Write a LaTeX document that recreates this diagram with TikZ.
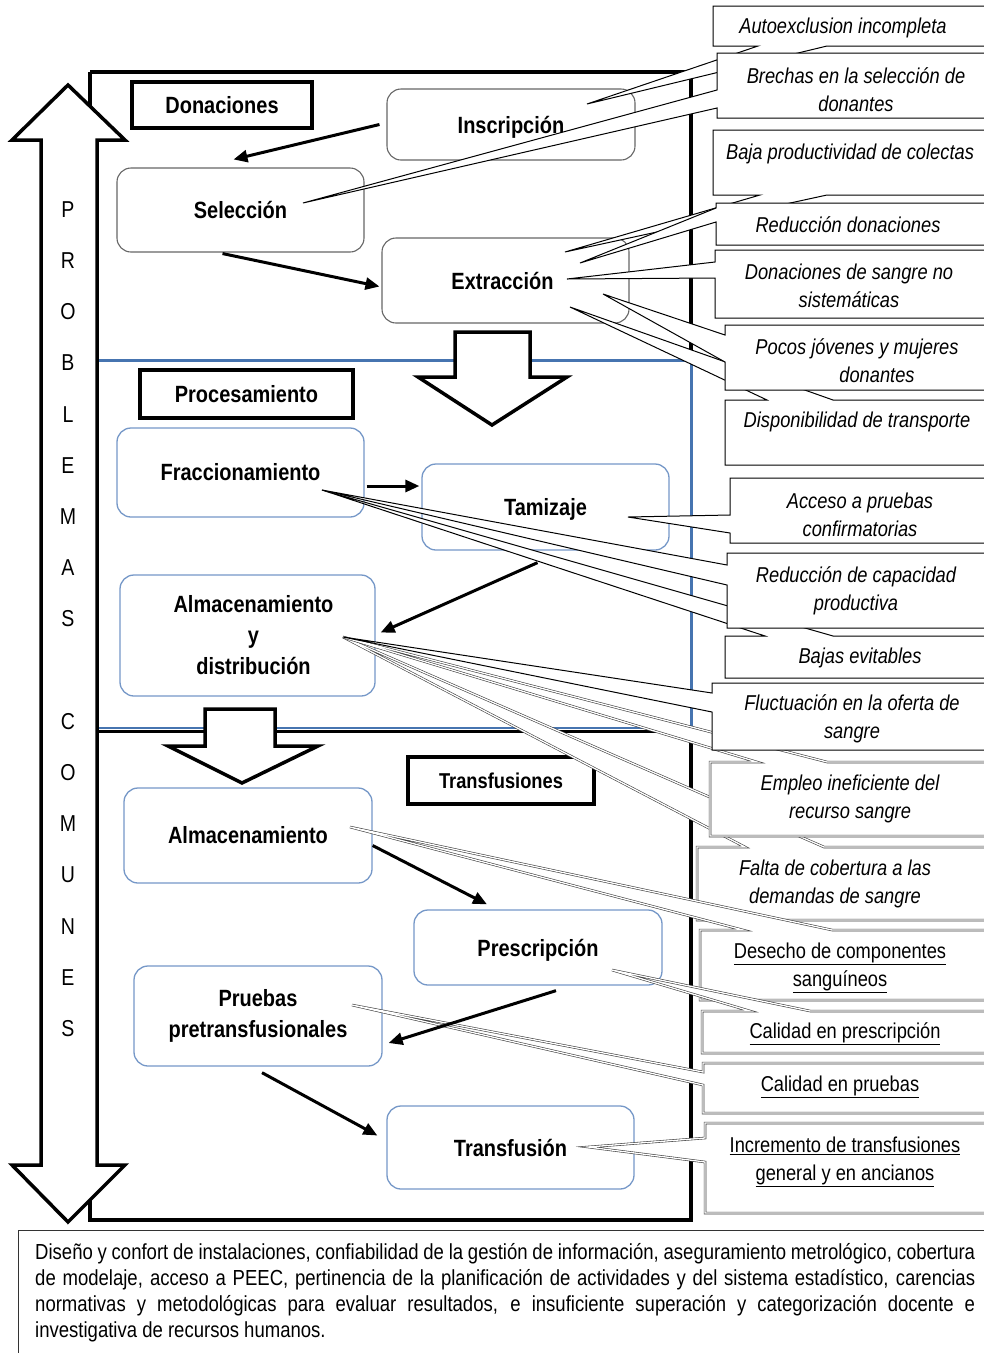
\documentclass[tikz,border=0pt]{standalone}
\usepackage{fontspec}
\setmainfont{Liberation Sans}[FakeStretch=0.85]
\usetikzlibrary{arrows.meta,calc}

\definecolor{procblue}{RGB}{118,152,200}
\definecolor{lineblue}{RGB}{70,116,176}

\newcommand{\procfont}{\fontsize{23.5}{31}\selectfont\bfseries}
\newcommand{\stagesmall}{\fontsize{21.5}{26}\selectfont\bfseries}
\newcommand{\calfont}{\fontsize{21.5}{28}\selectfont\itshape}
\newcommand{\calfontup}{\fontsize{21.5}{28}\selectfont}
\newcommand{\bodyfont}{\fontsize{21.8}{26}\selectfont}
\newcommand{\sidefont}{\fontsize{23}{51.2}\selectfont}

% callout outlines: box from x=#2 to beyond the right edge, rows #3..#4,
% wedge base points #5,#6 and tip coordinate #7
\newcommand{\wedgeleft}[7][]{\path[#1] (#2,#3) -- (#2,#5) -- (#7) -- (#2,#6) -- (#2,#4) -- (1000,#4) -- (1000,#3) -- cycle;}
\newcommand{\wedgetop}[7][]{\path[#1] (#2,#3) -- (#2,#4) -- (1000,#4) -- (1000,#3) -- (#6,#3) -- (#7) -- (#5,#3) -- cycle;}
\newcommand{\wedgebottom}[7][]{\path[#1] (#2,#3) -- (#2,#4) -- (#5,#4) -- (#7) -- (#6,#4) -- (1000,#4) -- (1000,#3) -- cycle;}

\begin{document}
\begin{tikzpicture}[x=1pt,y=-1pt,
  frameline/.style={line width=3.5pt,black},
  blueline/.style={line width=3pt,lineblue},
  gstep/.style={draw=black!60,line width=1.1pt,rounded corners=14pt,fill=white,font=\procfont,align=center,inner sep=0pt},
  bstep/.style={draw=procblue,line width=1.3pt,rounded corners=14pt,fill=white,font=\procfont,align=center,inner sep=0pt},
  stage/.style={draw=black,line width=4pt,fill=white,font=\procfont,inner sep=0pt},
  flow/.style={line width=3pt,-{Triangle[length=14pt,width=12pt]}},
  bigarrow/.style={draw=black,line width=3.5pt,fill=white,line join=miter},
  callA/.style={draw=black,line width=1pt,fill=white,line join=miter},
  callB/.style={draw=black!75,double=white,double distance=1.3pt,line width=0.6pt,fill=white,line join=miter},
  ctext/.style={font=\calfont,align=center,inner sep=0pt},
  utext/.style={font=\calfontup,align=center,inner sep=0pt}
]
\useasboundingbox (0,0) rectangle (984,1353);
\fill[white] (0,0) rectangle (984,1353);
\clip (0,0) rectangle (984,1353);

% ---- outer frame and section dividers ----
\draw[frameline] (90,72) -- (691,72) -- (691,360);
\draw[blueline] (97,360) -- (691,360) -- (691,729);
\draw[lineblue,line width=1.5pt] (97,728) -- (691,728);
\draw[frameline] (97,731.5) -- (691,731.5);
\draw[frameline] (691,729) -- (691,1220) -- (90,1220) -- (90,72);

% ---- vertical double arrow ----
\draw[bigarrow] (68,85) -- (125,140) -- (97,140) -- (97,1165) -- (125,1165) -- (68,1222)
  -- (12,1165) -- (41,1165) -- (41,140) -- (12,140) -- cycle;
\node[font=\sidefont,align=center,inner sep=0pt] (side) at (68,619)
  {P\\R\\O\\B\\L\\E\\M\\A\\S\\~\\C\\O\\M\\U\\N\\E\\S};

% ---- stage labels ----
\node[stage,minimum width=180,minimum height=46] (don) at (222,105) {Donaciones};
\node[stage,minimum width=213,minimum height=48] (proc) at (246.5,394) {Procesamiento};
\node[stage,font=\stagesmall,minimum width=186,minimum height=47] (trf) at (501,780.5) {Transfusiones};

% ---- process steps ----
\node[gstep,text depth=0pt,minimum width=248,minimum height=71] (insc) at (511,124.5) {Inscripción};
\node[gstep,minimum width=247,minimum height=84] (sel) at (240.5,210) {Selección};
\node[gstep,minimum width=247,minimum height=85] (extr) at (505.5,280.5) {\hspace*{-6pt}Extracción};
\node[bstep,minimum width=247,minimum height=89] (frac) at (240.5,472.5) {Fraccionamiento};
\node[bstep,text depth=0pt,minimum width=247,minimum height=86] (tam) at (545.5,507) {Tamizaje};
\node[bstep,minimum width=255,minimum height=121] (alm) at (247.5,635.5) {\hspace*{12pt}Almacenamiento\\\hspace*{12pt}y\\\hspace*{12pt}distribución};
\node[bstep,minimum width=248,minimum height=95] (almt) at (248,835.5) {Almacenamiento};
\node[bstep,text depth=0pt,minimum width=248,minimum height=75] (pres) at (538,947.5) {Prescripción};
\node[bstep,minimum width=248,minimum height=100] (prue) at (258,1016) {Pruebas\\pretransfusionales};
\node[bstep,minimum width=247,minimum height=83] (trans) at (510.5,1147.5) {Transfusión};

% ---- hollow arrows between stages ----
\draw[bigarrow] (455,332) -- (530,332) -- (530,377) -- (567,377) -- (492,425) -- (418,377) -- (455,377) -- cycle;
\draw[bigarrow] (205,709) -- (275,709) -- (275,746) -- (318,746) -- (242,783) -- (168,746) -- (205,746) -- cycle;

% ---- callout tips ----
\coordinate (pInsc) at (587,104);
\coordinate (pSel) at (303,203);
\coordinate (pExt1) at (565,252);
\coordinate (pExt2) at (580,263);
\coordinate (pExt3) at (567,279);
\coordinate (pExt4) at (603,294);
\coordinate (pExt5) at (570,307);
\coordinate (pTam) at (628,517);
\coordinate (pFrac) at (322,490);
\coordinate (pAlm) at (343,637);
\coordinate (pAlmT) at (350,827);
\coordinate (pPres) at (612,970);
\coordinate (pPrue) at (352,1005);
\coordinate (pTrans) at (588,1147);

% ---- problems: donations ----
\wedgebottom[callA]{713}{6}{46}{758}{827}{pInsc}
\node[ctext] (c1) at (843,28) {Autoexclusion incompleta};
\wedgeleft[callA]{717}{53}{118}{90}{108}{pSel}
\node[ctext] (c2) at (856,90) {Brechas en la selección de\\donantes};
\wedgebottom[callA]{713}{130}{195}{760}{827}{pExt1}
\node[ctext] (c3) at (850,154) {Baja productividad de colectas};
\wedgeleft[callA]{716}{203}{245}{208}{222}{pExt2}
\node[ctext] (c4) at (848,225) {Reducción donaciones};
\wedgeleft[callA]{715}{250}{318}{262}{278}{pExt3}
\node[ctext] (c5) at (849,286) {Donaciones de sangre no\\sistemáticas};
\wedgetop[callA]{725}{400}{465}{767}{833}{pExt5}
\node[ctext] (c7) at (857,422) {Disponibilidad de transporte};
\wedgeleft[callA]{725}{325}{390}{335}{362}{pExt4}
\node[ctext] (c6) at (857,361) {Pocos jóvenes y mujeres\\\hspace*{40pt}donantes};

% ---- problems: processing ----
\wedgeleft[callA]{730}{478}{543}{515}{533}{pTam}
\node[ctext] (c8) at (860,515) {Acceso a pruebas\\confirmatorias};
\wedgetop[callA]{725}{636}{678}{765}{833}{pFrac}
\node[ctext] (c10) at (860,658) {Bajas evitables};
\wedgeleft[callA]{727}{553}{628}{565}{585}{pFrac}
\node[ctext] (c9) at (856,591) {Reducción de capacidad\\productiva};
\wedgetop[callB]{697}{847}{920}{745}{824}{pAlm}
\node[ctext] (c13) at (835,884) {Falta de cobertura a las\\demandas de sangre};
\wedgetop[callB]{710}{762}{836}{757}{827}{pAlm}
\node[ctext] (c12) at (850,799) {Empleo ineficiente del\\recurso sangre};
\wedgeleft[callA]{712}{683}{750}{693}{712}{pAlm}
\node[ctext] (c11) at (852,719) {Fluctuación en la oferta de\\sangre};

% ---- problems: transfusion ----
\wedgetop[callB]{700}{930}{1000}{743}{832}{pAlmT}
\node[utext] (c14) at (840,968) {\underline{Desecho de componentes}\\\underline{sanguíneos}};
\wedgetop[callB]{702}{1011}{1053}{750}{810}{pPres}
\node[utext] (c15) at (845,1034) {\underline{Calidad en prescripción}};
\wedgeleft[callB]{703}{1063}{1113}{1072}{1085}{pPrue}
\node[utext] (c16) at (840,1087) {\underline{Calidad en pruebas}};
\wedgeleft[callB]{705}{1123}{1213}{1138}{1162}{pTrans}
\node[utext] (c17) at (845,1162) {\underline{Incremento de transfusiones}\\\underline{general y en ancianos}};

% ---- flow between steps ----
\draw[flow] ($(insc.west)+(-7,0)$) -- ($(sel.north)+(-7,-8)$);
\draw[flow] ($(sel.south)+(-18,1)$) -- ($(extr.west)+(-2,6)$);
\draw[flow] ($(frac.east)+(2,13.5)$) -- ($(tam.west)+(-2,-21)$);
\draw[flow] ($(tam.south)+(-8,12)$) -- ($(alm.east)+(5,-3)$);
\draw[flow] ($(almt.east)+(0,10)$) -- ($(pres.north)+(-51,-5)$);
\draw[flow] ($(pres.south)+(18,5)$) -- ($(prue.east)+(6,27)$);
\draw[flow] ($(prue.south)+(4,6)$) -- ($(trans.west)+(-9,-12)$);

% ---- common problems ----
\draw[black!80,line width=1pt] (18,1230) rectangle (1000,1400);
\node[anchor=north west,inner sep=0pt,font=\bodyfont,align=left] (common) at (35,1243)
  {\makebox[940pt][s]{Diseño y confort de instalaciones, confiabilidad de la gestión de información, aseguramiento metrológico, cobertura}\\\makebox[940pt][s]{de modelaje, acceso a PEEC, pertinencia de la planificación de actividades y del sistema estadístico, carencias}\\\makebox[940pt][s]{normativas y metodológicas para evaluar resultados, e insuficiente superación y categorización docente e}\\investigativa de recursos humanos.};
\end{tikzpicture}
\end{document}
